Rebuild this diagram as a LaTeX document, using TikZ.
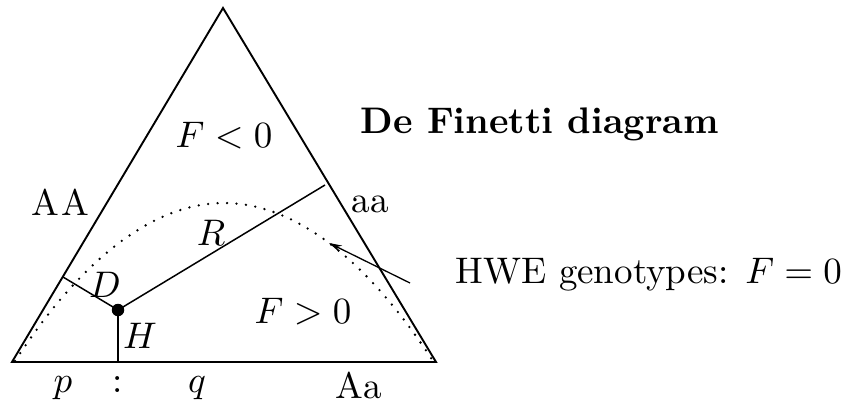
\documentclass[tikz,border=0pt]{standalone}
\usetikzlibrary{arrows.meta}
\tikzset{
  lbl/.style={inner sep=0pt, anchor=base, scale=3.7},
  side/.style={line width=1.9pt, line join=miter},
  dist/.style={line width=1.5pt},
  hwe/.style={line width=2.6pt, dash pattern=on 0pt off 9.5pt, line cap=round},
  dotnode/.style={circle, fill=black, inner sep=0pt, minimum size=12.5pt}
}
\begin{document}
\begin{tikzpicture}[x=1pt,y=-1pt]
\useasboundingbox (0,0) rectangle (844,405);
% triangle corners
\coordinate (BL) at (12,362);
\coordinate (BR) at (436,362);
\coordinate (T) at (223,8);
\draw[side] (BL) -- (BR) -- (T) -- cycle;
% HWE parabola
\draw[hwe] (15,361) parabola bend (224,203) (433,361);
% point and distances
\node[dotnode] (P) at (118,310) {};
\coordinate (Hb) at (118,362);
\coordinate (Dl) at (63,277);
\coordinate (Rr) at (325,185);
\draw[dist] (P.center) -- (Hb);
\draw[dist] (P.center) -- (Dl);
\draw[dist] (P.center) -- (Rr);
% arrow
\coordinate (As) at (410,283);
\coordinate (Ae) at (329,243);
\draw[dist, line width=1.3pt, -{Stealth[length=13pt,width=7pt]}] (As) -- (Ae);
% labels
\node[lbl] (fl) at (224,147) {$F<0$};
\node[lbl] (fg) at (303,323) {$F>0$};
\node[lbl] (AA) at (60,215) {A\kern0.6pt A};
\node[lbl] (aa) at (370,212) {aa};
\node[lbl] (R) at (211,245) {$R$};
\node[lbl] (D) at (105,297) {$D$};
\node[lbl] (H) at (140,348) {$H$};
\node[lbl] (p) at (63,392) {$p$};
\node[lbl] (col) at (118,392) {:};
\node[lbl] (q) at (197,392) {$q$};
\node[lbl] (Aa) at (359,398) {Aa};
\node[lbl, anchor=base west] (title) at (360,133) {\bfseries De Finetti diagram};
\node[lbl, anchor=base west] (hw) at (455,283) {HWE genotypes: $F=0$};
\end{tikzpicture}
\end{document}
